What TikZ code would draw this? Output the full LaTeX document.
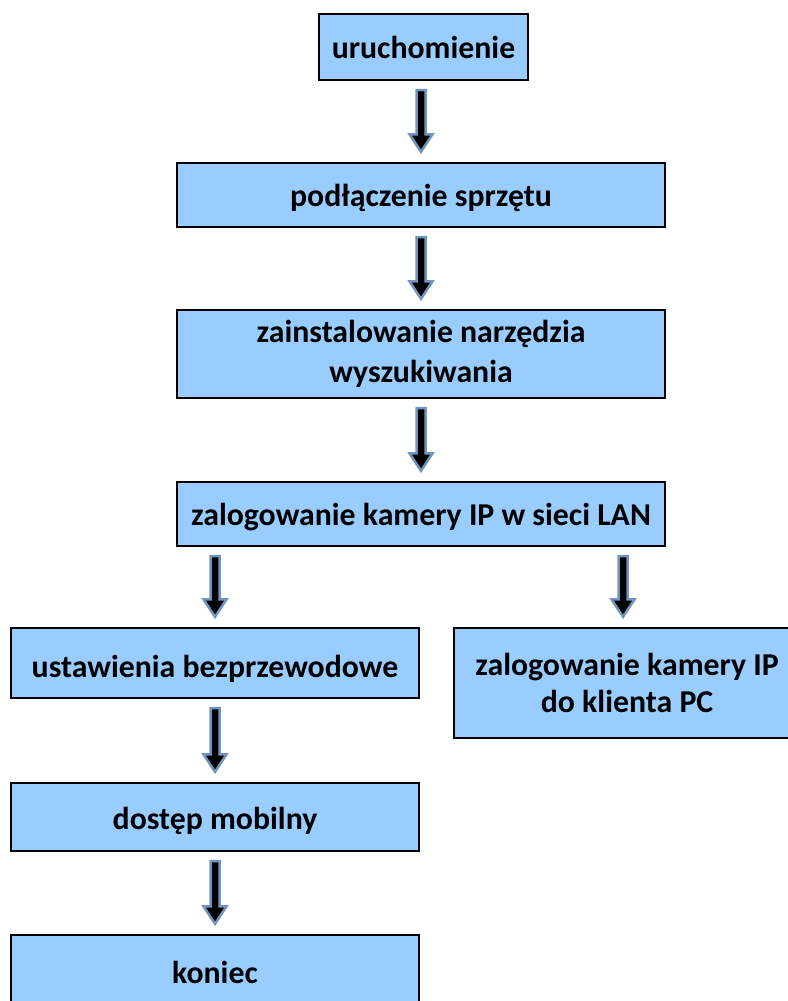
\documentclass[tikz,border=0pt]{standalone}
\usepackage{fontspec}
\setmainfont{Carlito}
\usetikzlibrary{calc}
\definecolor{boxblue}{RGB}{153,204,255}
\definecolor{arrowblue}{RGB}{112,148,190}
\tikzset{
  flowbox/.style={draw=black, line width=1.3pt, fill=boxblue, inner sep=0pt,
    font=\fontsize{31.8}{37}\selectfont\bfseries, align=center},
  baselow/.style={text height=#1, text depth=0pt},
  barrowstyle/.style={fill=black, draw=arrowblue, line width=2.5pt, line join=miter, miter limit=10}
}
\newcommand\barrow[2]{%
  \path #1 coordinate (tmpA) #2 coordinate (tmpB);
  \draw[barrowstyle] let \p1=(tmpA), \p2=(tmpB) in
    (\x1-4.5pt,\y1-9.5pt) -- (\x1+4.5pt,\y1-9.5pt) -- (\x1+4.5pt,\y2+28pt)
    -- (\x1+11.5pt,\y2+28pt) -- (\x1,\y2+10.5pt) -- (\x1-11.5pt,\y2+28pt)
    -- (\x1-4.5pt,\y2+28pt) -- cycle;}
\begin{document}
\begin{tikzpicture}[x=1pt,y=-1pt]
\useasboundingbox (0,0) rectangle (787,1001);
\node[flowbox, baselow=23pt, minimum width=209pt, minimum height=66pt] (n1) at (423.5,47) {uruchomienie};
\node[flowbox, baselow=23pt, minimum width=488pt, minimum height=64pt] (n2) at (421,195) {podłączenie sprzętu};
\node[flowbox, minimum width=488pt, minimum height=88pt, font=\fontsize{31.8}{40}\selectfont\bfseries] (n3) at (421,354) {zainstalowanie narzędzia\\wyszukiwania};
\node[flowbox, baselow=22pt, minimum width=488pt, minimum height=64pt] (n4) at (421,514) {zalogowanie kamery IP w sieci LAN};
\node[flowbox, baselow=28pt, minimum width=408pt, minimum height=70pt] (n5) at (215,663) {ustawienia bezprzewodowe};
\node[flowbox, minimum width=346pt, minimum height=110pt] (n6) at (627,683) {zalogowanie kamery IP\\do klienta PC};
\node[flowbox, baselow=25pt, minimum width=408pt, minimum height=68pt] (n7) at (215,817) {dostęp mobilny};
\node[flowbox, baselow=27pt, minimum width=408pt, minimum height=70pt] (n8) at (215,970) {koniec};
\coordinate (r6) at ($(n6.north)+(-4,0)$);
\barrow{(n1.south -| n2.north)}{(n2.north)}
\barrow{(n2.south)}{(n3.north)}
\barrow{(n3.south)}{(n4.north)}
\barrow{(n4.south -| n5.north)}{(n5.north)}
\barrow{(n4.south -| r6)}{(r6)}
\barrow{(n5.south)}{(n7.north)}
\barrow{(n7.south)}{(n8.north)}
\end{tikzpicture}
\end{document}
